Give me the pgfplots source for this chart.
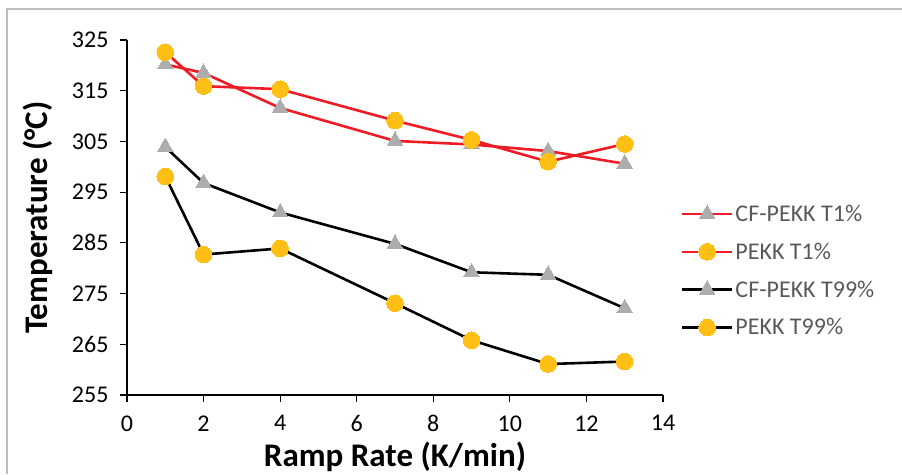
\documentclass[border=0pt]{standalone}
\usepackage{fontspec}
\setmainfont{Carlito}
\usepackage{pgfplots}
\pgfplotsset{compat=1.18}
\definecolor{cred}{HTML}{EE1C25}
\definecolor{cgold}{HTML}{FFBF14}
\definecolor{cgray}{HTML}{ADADAD}
\definecolor{ctext}{HTML}{595959}
\definecolor{cborder}{HTML}{BFBFBF}
\begin{document}
\begin{tikzpicture}[x=1pt,y=1pt]
\useasboundingbox (-127,-79) rectangle (775,395);
\draw[cborder, line width=1.5pt] (-120,-79) -- (-120,386) -- (775,386);
\begin{axis}[
  at={(0pt,0pt)}, anchor=south west,
  scale only axis, width=536pt, height=355pt,
  xmin=0, xmax=14, ymin=255, ymax=325,
  xtick={0,2,...,14}, ytick={255,265,...,325},
  axis x line*=bottom, axis y line*=left,
  axis line style={-, line width=1.3pt, black},
  tick align=outside, major tick length=7pt,
  tick style={line width=1.2pt, black},
  /pgf/number format/assume math mode=true,
  ticklabel style={font=\fontsize{24}{28}\selectfont, text=black},
  xticklabel style={yshift=-10pt},
  yticklabel style={xshift=-8pt},
  xlabel={\textbf{Ramp Rate (K/min)}},
  ylabel={\textbf{Temperature (°C)}},
  label style={font=\fontsize{33}{38}\selectfont},
  xlabel style={yshift=-3pt},
  ylabel style={yshift=12pt},
  legend style={at={(1.033,0.350)}, anchor=west, draw=none, fill=none,
    font=\fontsize{24}{28}\selectfont, text=ctext, row sep=16pt, inner sep=0pt},
  legend cell align=left,
  legend image code/.code={\draw[mark repeat=2,mark phase=2,#1] plot coordinates {(0pt,0pt) (25pt,0pt) (50pt,0pt)};},
  clip=false,
]
\addplot[cred, line width=2.6pt, mark=triangle*, mark size=9pt, mark options={draw=cgray, fill=cgray, line width=0pt}]
  coordinates {(1,320.2) (2,318.5) (4,311.6) (7,305.1) (9,304.4) (11,303.1) (13,300.6)};
\addlegendentry{CF-PEKK T1\%}
\addplot[cred, line width=2.6pt, mark=*, mark size=8.3pt, mark options={draw=cgold, fill=cgold, line width=0pt}]
  coordinates {(1,322.6) (2,315.9) (4,315.3) (7,309.1) (9,305.3) (11,301.0) (13,304.5)};
\addlegendentry{PEKK T1\%}
\addplot[black, line width=2.6pt, mark=triangle*, mark size=9pt, mark options={draw=cgray, fill=cgray, line width=0pt}]
  coordinates {(1,303.9) (2,296.8) (4,291.0) (7,284.8) (9,279.2) (11,278.7) (13,272.1)};
\addlegendentry{CF-PEKK T99\%}
\addplot[black, line width=2.6pt, mark=*, mark size=8.3pt, mark options={draw=cgold, fill=cgold, line width=0pt}]
  coordinates {(1,298.1) (2,282.7) (4,283.9) (7,273.1) (9,265.8) (11,261.1) (13,261.6)};
\addlegendentry{PEKK T99\%}
\end{axis}
\end{tikzpicture}
\end{document}
